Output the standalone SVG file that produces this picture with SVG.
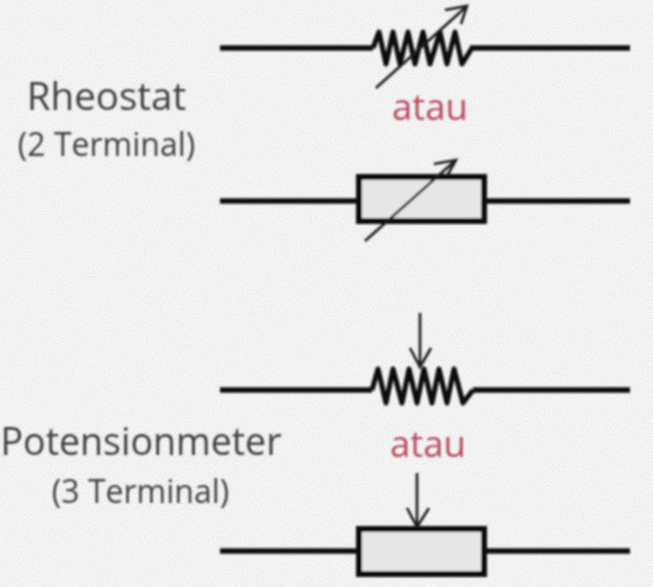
<svg xmlns="http://www.w3.org/2000/svg" width="653" height="587" viewBox="0 0 653 587">
<style>
.w{fill:none;stroke:#0c0c0c;stroke-width:5.5;stroke-linejoin:round}
.z{fill:none;stroke:#0c0c0c;stroke-width:5;stroke-linejoin:round}
.a{fill:none;stroke:#1e1e1e;stroke-width:2.6}
.b{fill:#e6e6e6;stroke:#0c0c0c;stroke-width:6}
text{font-family:"Open Sans","Liberation Sans",sans-serif;text-anchor:middle;fill:#404040}
.r{fill:#b84a5c}
</style>
<defs>
<filter id="s" x="-5%" y="-5%" width="110%" height="110%"><feGaussianBlur stdDeviation="0.8"/></filter>
<filter id="n" x="0" y="0" width="100%" height="100%"><feTurbulence type="fractalNoise" baseFrequency="0.9" numOctaves="2" seed="3"/><feColorMatrix values="0 0 0 0 0.55  0 0 0 0 0.55  0 0 0 0 0.55  0.9 0 0 0 -0.25"/></filter>
</defs>
<rect id="background" width="653" height="587" fill="#f8f8f8"/>
<rect id="grain" width="653" height="587" filter="url(#n)" opacity="0.6"/>
<g filter="url(#s)">
<g id="connectors">
<path class="w" d="M220 48H373M470 48H630"/>
<path class="w" d="M220 201H359M484 201H630"/>
<path class="w" d="M220 390H372M473 390H630"/>
<path class="w" d="M220 551H359M484 551H630"/>
</g>
<g id="rheostat-coil">
<path class="z" d="M373 48L379 32L386 64L393 32L400 64L408 32L415 64L423 32L430 64L440 32L447 64L455 32L462 64L472 48"/>
<path class="a" d="M376 88L467 6M445 10L467 6L461 24"/>
</g>
<g id="rheostat-box">
<rect class="b" x="359" y="177" width="125" height="44"/>
<path class="a" d="M365 241L456 160M434 164L456 160L447 176"/>
</g>
<g id="pot-coil">
<path class="z" d="M372 390L378 369L386 403L393 369L402 403L409 369L417 403L424 369L432 403L439 369L447 403L454 369L463 403L473 390"/>
<path class="a" d="M420 313V367M410 348L420 367L431 348"/>
</g>
<g id="pot-box">
<rect class="b" x="359" y="529" width="125" height="45"/>
<path class="a" d="M417 473V527M407 508L417 527L429 508"/>
</g>
<g id="labels">
<text x="106.500" y="110" font-size="38.500">Rheostat</text>
<text x="106.500" y="156" font-size="32">(2 Terminal)</text>
<text class="r" x="430" y="120" font-size="36.500">atau</text>
<text x="141" y="455" font-size="37.500">Potensionmeter</text>
<text x="140.500" y="503" font-size="32">(3 Terminal)</text>
<text class="r" x="428" y="457" font-size="36.500">atau</text>
</g>
</g>
</svg>
